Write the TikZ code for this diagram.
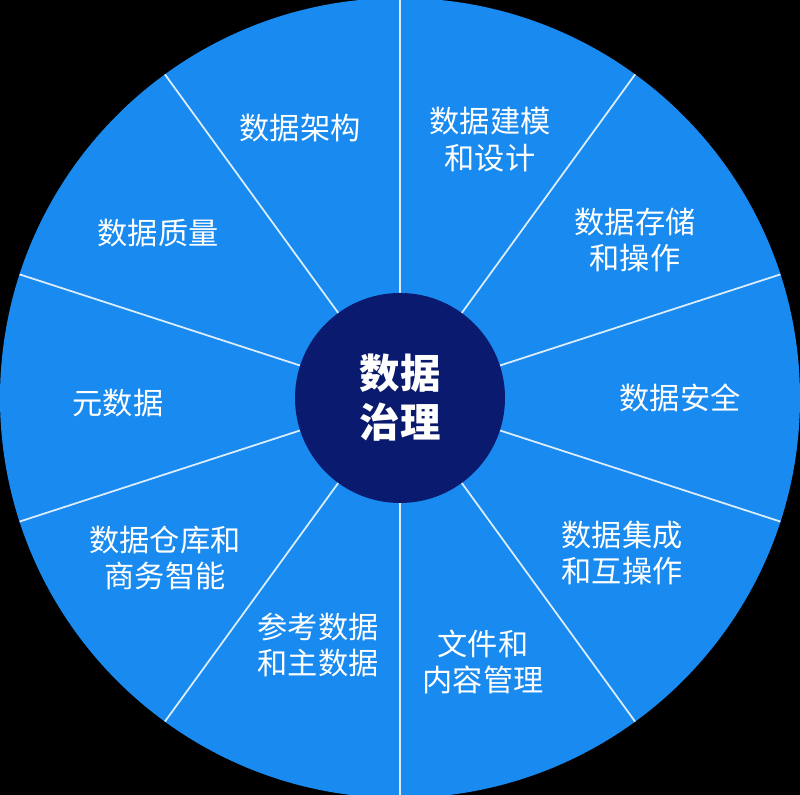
\documentclass[tikz,border=0pt]{standalone}
\usepackage{fontspec}
\newfontfamily\cjk{Noto Sans CJK SC}
\usepackage{xcolor}
\usetikzlibrary{positioning}
\definecolor{wheelblue}{RGB}{24,138,240}
\definecolor{hubnavy}{RGB}{10,26,110}

\begin{document}
\begin{tikzpicture}[
    area/.style={text=white, align=center, font=\cjk\fontsize{8.6}{10.5}\selectfont},
    spoke/.style={white!85!wheelblue, line width=0.5pt}
  ]
    % Background and wheel
    \fill[black] (0,0) rectangle (8,7.95);
    \useasboundingbox (0,0) rectangle (8,7.95);
    \fill[wheelblue] (4,3.97) circle (4.0);

    % Spokes between the areas
    \foreach \a in {90,54,18,-18,-54,-90,-126,-162,162,126} {
        \draw[spoke] (4,3.97) -- ++(\a:4.0);
    }

    % Hub
    \node[circle, fill=hubnavy, minimum size=2.1cm, text=white, align=center,
          font=\cjk\bfseries\fontsize{11.5}{14}\selectfont] (hub) at (4,3.97) {数据\\治理};

    % Knowledge areas
    \node[area] (arch)  at (3.00,6.67) {数据架构};
    \node[area] (model) at (4.90,6.55) {数据建模\\和设计};
    \node[area] (store) at (6.35,5.55) {数据存储\\和操作};
    \node[area] (sec)   at (6.80,3.97) {数据安全};
    \node[area] (integ) at (6.22,2.42) {数据集成\\和互操作};
    \node[area] (doc)   at (4.83,1.33) {文件和\\内容管理};
    \node[area] (ref)   at (3.18,1.50) {参考数据\\和主数据};
    \node[area] (dw)    at (1.65,2.37) {数据仓库和\\商务智能};
    \node[area] (meta)  at (1.18,3.92) {元数据};
    \node[area] (qual)  at (1.58,5.62) {数据质量};
\end{tikzpicture}
\end{document}
